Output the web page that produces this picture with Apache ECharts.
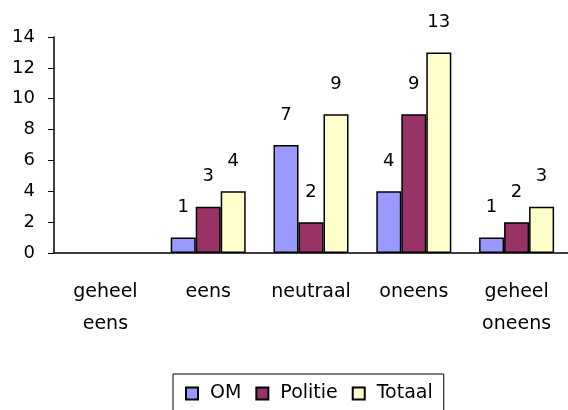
<!DOCTYPE html>
<html>
<head>
<meta charset="utf-8">
<script src="https://cdn.jsdelivr.net/npm/echarts@6/dist/echarts.min.js"></script>
<style>
  html, body { margin: 0; padding: 0; background: #fff; }
  #chart { width: 568px; height: 410px; }
</style>
</head>
<body>
<div id="chart"></div>
<script>
// categorieën en waarden
const categories = ['geheel\neens', 'eens', 'neutraal', 'oneens', 'geheel\noneens'];
const omValues = [null, 1, 7, 4, 1];
const politieValues = [null, 3, 2, 9, 2];
const totaalValues = [null, 4, 9, 13, 3];

const font = 'DejaVu Sans';

function makeSeries(name, data, color) {
    return {
        name: name,
        type: 'bar',
        data: data,
        barWidth: 25,
        barGap: '0%',
        itemStyle: { color: color, borderColor: '#000', borderWidth: 1.5 },
        label: {
            show: true,
            position: 'top',
            distance: 21,
            color: '#000',
            fontFamily: font,
            fontSize: 18
        }
    };
}

const chart = echarts.init(document.getElementById('chart'));
chart.setOption({
    animation: false,
    textStyle: { fontFamily: font },
    grid: { left: 54, right: -6, top: 37, bottom: 157 },
    xAxis: {
        type: 'category',
        data: categories,
        axisLine: { lineStyle: { color: '#000', width: 1.5 } },
        axisTick: { length: 6, lineStyle: { color: '#000' } },
        axisLabel: {
            color: '#000',
            fontSize: 19,
            fontFamily: font,
            margin: 23,
            lineHeight: 32,
            interval: 0
        }
    },
    yAxis: {
        type: 'value',
        min: 0,
        max: 14,
        interval: 2,
        splitLine: { show: false },
        axisLine: { show: true, lineStyle: { color: '#000', width: 1.5 } },
        axisTick: { show: true, length: 6, lineStyle: { color: '#000' } },
        axisLabel: { color: '#000', fontSize: 18, fontFamily: font, margin: 19 }
    },
    legend: {
        left: 173,
        top: 374,
        icon: 'rect',
        itemWidth: 12,
        itemHeight: 12,
        itemGap: 14,
        borderColor: '#000',
        borderWidth: 1,
        padding: [10, 11, 12, 12],
        textStyle: { color: '#000', fontSize: 19, fontFamily: font, padding: [0, 0, 0, 7] },
        data: ['OM', 'Politie', 'Totaal']
    },
    series: [
        makeSeries('OM', omValues, '#9999FF'),
        makeSeries('Politie', politieValues, '#993366'),
        makeSeries('Totaal', totaalValues, '#FFFFCC')
    ]
});
</script>
</body>
</html>
